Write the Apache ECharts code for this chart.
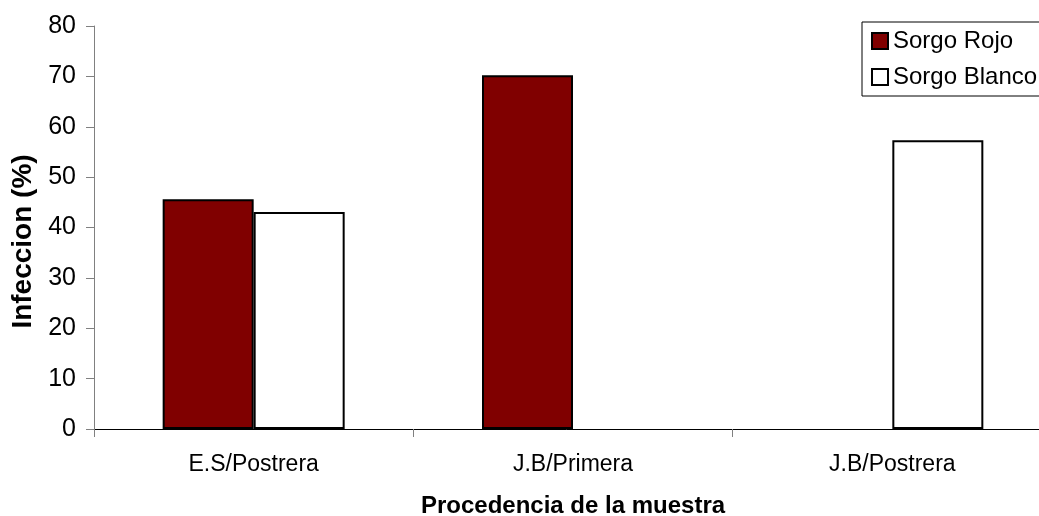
<!DOCTYPE html>
<html>
<head>
<meta charset="utf-8">
<script src="https://cdn.jsdelivr.net/npm/echarts@6/dist/echarts.min.js"></script>
<style>
  html, body { margin: 0; padding: 0; background: #fff; }
  #chart { width: 1039px; height: 516px; }
</style>
</head>
<body>
<div id="chart"></div>
<script>
// Infection percentage by sample origin, red vs white sorghum
const categories = ['E.S/Postrera', 'J.B/Primera', 'J.B/Postrera'];
const sorgoRojo = [45.6, 70.2, null];
const sorgoBlanco = [43.1, null, 57.3];
const yTicks = { min: 0, max: 80, interval: 10 };

const font = '"Liberation Sans", Arial, sans-serif';
const chart = echarts.init(document.getElementById('chart'));

chart.setOption({
  animation: false,
  backgroundColor: '#ffffff',
  textStyle: { fontFamily: font },
  grid: {
    left: 94, top: 26, width: 958, height: 403,
    containLabel: false,
    outerBoundsMode: 'none'
  },
  legend: {
    orient: 'vertical',
    left: 862,
    top: 22,
    itemGap: 12,
    itemWidth: 16,
    itemHeight: 16,
    icon: 'rect',
    padding: [7, 12, 7, 9],
    borderColor: '#000',
    borderWidth: 1,
    textStyle: { fontFamily: font, fontSize: 24, color: '#000' },
    data: ['Sorgo Rojo', 'Sorgo Blanco']
  },
  xAxis: {
    type: 'category',
    data: categories,
    name: 'Procedencia de la muestra',
    nameLocation: 'middle',
    nameGap: 65,
    nameTextStyle: { fontFamily: font, fontSize: 24, fontWeight: 'bold', color: '#000' },
    axisLine: { lineStyle: { color: '#000', width: 1 } },
    axisTick: { show: true, length: 8, lineStyle: { color: '#808080' } },
    axisLabel: { fontFamily: font, fontSize: 23, color: '#000', margin: 24 }
  },
  yAxis: {
    type: 'value',
    min: yTicks.min,
    max: yTicks.max,
    interval: yTicks.interval,
    name: 'Infeccion (%)',
    nameLocation: 'middle',
    nameGap: 56,
    nameTextStyle: { fontFamily: font, fontSize: 28, fontWeight: 'bold', color: '#000', padding: [0, 28, 0, 0] },
    splitLine: { show: false },
    axisLine: { show: true, lineStyle: { color: '#808080', width: 1 } },
    axisTick: { show: true, length: 8, lineStyle: { color: '#808080' } },
    axisLabel: { fontFamily: font, fontSize: 25, color: '#000', margin: 18 }
  },
  series: [
    {
      name: 'Sorgo Rojo',
      type: 'bar',
      data: sorgoRojo,
      barWidth: 91,
      barGap: '0%',
      itemStyle: { color: '#800000', borderColor: '#000', borderWidth: 2 }
    },
    {
      name: 'Sorgo Blanco',
      type: 'bar',
      data: sorgoBlanco,
      barWidth: 91,
      barGap: '0%',
      itemStyle: { color: '#ffffff', borderColor: '#000', borderWidth: 2 }
    }
  ]
});
</script>
</body>
</html>
